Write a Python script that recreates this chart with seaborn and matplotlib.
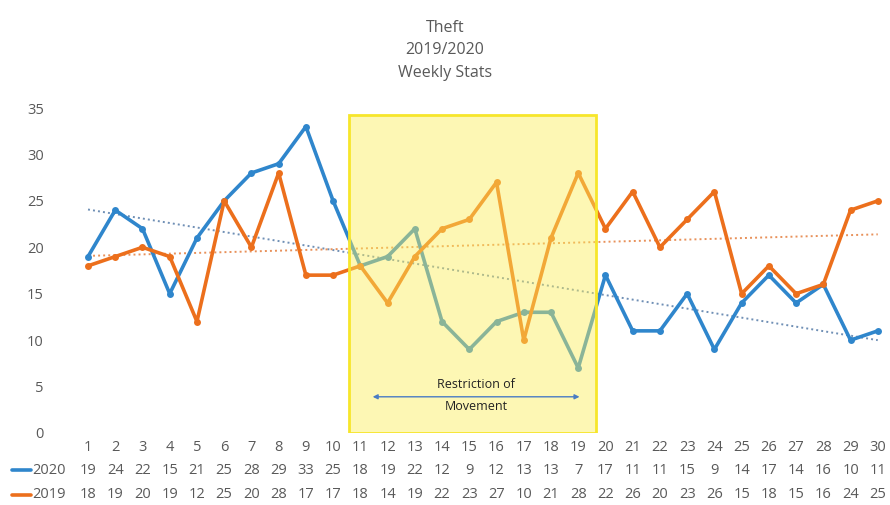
import matplotlib
matplotlib.use("Agg")
import matplotlib.pyplot as plt
import seaborn as sns
import numpy as np
import pandas as pd
from matplotlib.patches import Rectangle

sns.set_theme(style="white")
plt.rcParams['font.family'] = ['Open Sans', 'DejaVu Sans']

weeks = list(range(1, 31))
theft_2020 = [19, 24, 22, 15, 21, 25, 28, 29, 33, 25, 18, 19, 22, 12, 9,
              12, 13, 13, 7, 17, 11, 11, 15, 9, 14, 17, 14, 16, 10, 11]
theft_2019 = [18, 19, 20, 19, 12, 25, 20, 28, 17, 17, 18, 14, 19, 22, 23,
              27, 10, 21, 28, 22, 26, 20, 23, 26, 15, 18, 15, 16, 24, 25]
restriction_weeks = (10.6, 19.65)
restriction_label = "Restriction of\nMovement"
y_ticks = [0, 5, 10, 15, 20, 25, 30, 35]

BLUE = '#2f86cc'
ORANGE = '#ec6f1c'
TEXT = '#595959'

df = pd.DataFrame({'week': weeks, '2020': theft_2020, '2019': theft_2019})

fig = plt.figure(figsize=(8.9, 5.05), dpi=100)
ax = fig.add_axes([74.4 / 890, 1 - 433 / 505, 817 / 890, (433 - 108) / 505])

sns.lineplot(data=df, x='week', y='2020', ax=ax, color=BLUE, lw=2.6,
             marker='o', markersize=5, markeredgewidth=0, zorder=3)
sns.lineplot(data=df, x='week', y='2019', ax=ax, color=ORANGE, lw=2.6,
             marker='o', markersize=5, markeredgewidth=0, zorder=3)

# linear trendlines
for col, c in [('2020', '#6f8fb5'), ('2019', '#e8915a')]:
    k, b = np.polyfit(df['week'], df[col], 1)
    ax.plot(df['week'], k * df['week'] + b, ls=(0, (1, 1.6)), lw=1.4,
            color=c, zorder=2)

# restriction period box (semi transparent over the lines)
x0, x1 = restriction_weeks
ax.add_patch(Rectangle((x0, 0), x1 - x0, 34.2, facecolor='#fbee5a',
                       alpha=0.45, edgecolor='none', zorder=4))
ax.add_patch(Rectangle((x0, 0), x1 - x0, 34.2, facecolor='none',
                       edgecolor='#f7e62a', lw=2, zorder=5))
ax.annotate('', xy=(11.35, 3.9), xytext=(19.15, 3.9),
            arrowprops=dict(arrowstyle='<|-|>', color='#4a7cc4', lw=1,
                            mutation_scale=7), zorder=6)
ax.text((11.35 + 19.15) / 2, 4.05, restriction_label, ha='center',
        va='center', fontsize=9, color='#222222', linespacing=1.9, zorder=6)

ax.set_xlim(0.5, 30.5)
ax.set_ylim(0, 35)
ax.set_yticks(y_ticks)
ax.set_yticklabels([str(t) for t in y_ticks], color=TEXT, fontsize=10.5)
ax.tick_params(axis='y', length=0, pad=22)
ax.set_xticks([])
ax.set_xlabel('')
ax.set_ylabel('')
for s in ax.spines.values():
    s.set_visible(False)

# data table under the chart
trans = ax.get_xaxis_transform()
for w, a, b in zip(weeks, theft_2020, theft_2019):
    ax.text(w, -0.045, str(w), transform=trans, ha='center', va='center',
            fontsize=10.5, color=TEXT)
    ax.text(w, -0.115, str(a), transform=trans, ha='center', va='center',
            fontsize=10.5, color=TEXT)
    ax.text(w, -0.19, str(b), transform=trans, ha='center', va='center',
            fontsize=10.5, color=TEXT)
for label, c, yy in [('2020', BLUE, -0.115), ('2019', ORANGE, -0.19)]:
    ax.plot([-1.8, -1.08], [yy, yy], transform=trans, color=c, lw=2.6,
            clip_on=False)
    ax.text(-1.06, yy, label, transform=trans, ha='left', va='center',
            fontsize=10.5, color=TEXT)

fig.text(0.5, 1 - 28 / 505, 'Theft', ha='center', va='center',
         fontsize=11.5, color=TEXT)
fig.text(0.5, 1 - 50 / 505, '2019/2020', ha='center', va='center',
         fontsize=11.5, color=TEXT)
fig.text(0.5, 1 - 73 / 505, 'Weekly Stats', ha='center', va='center',
         fontsize=11.5, color=TEXT)

fig.savefig('out.png', dpi=100)
